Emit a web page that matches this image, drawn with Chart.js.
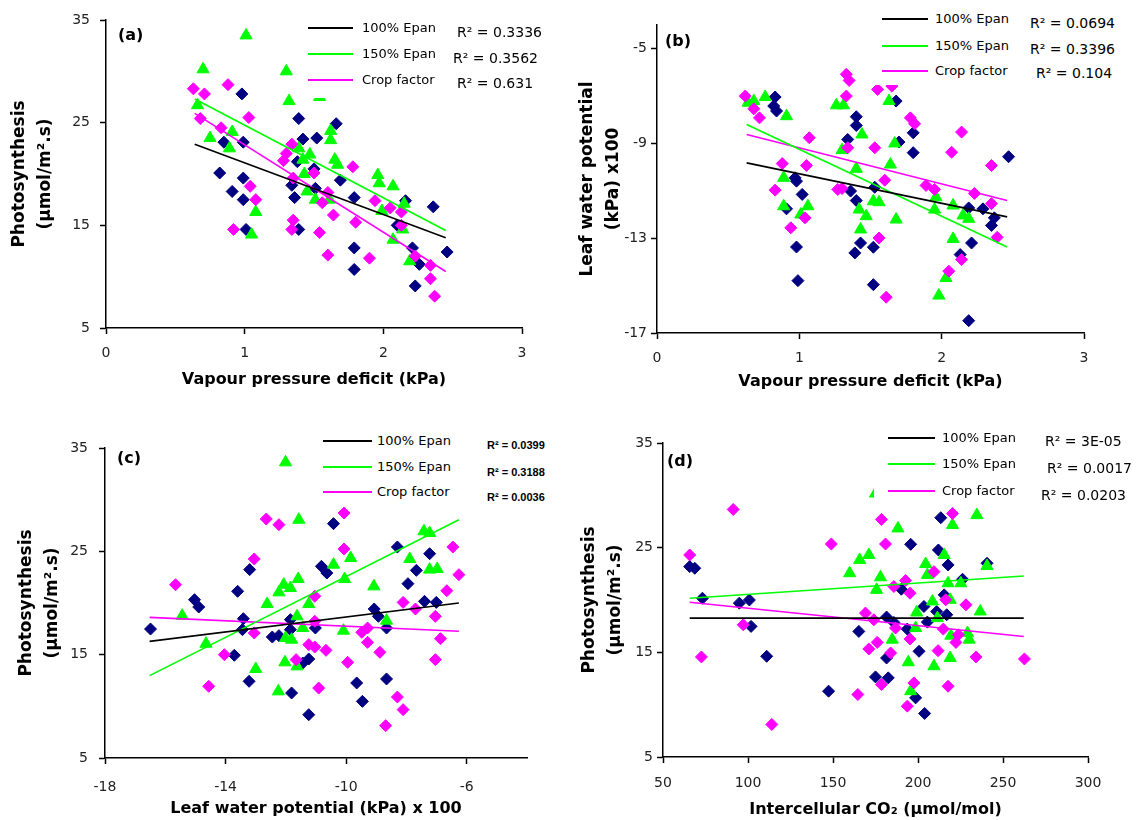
<!DOCTYPE html>
<html><head><meta charset="utf-8">
<script src="https://cdn.jsdelivr.net/npm/chart.js@4.4.1/dist/chart.umd.min.js"></script>
<style>
html,body{margin:0;padding:0;background:#fff;}
body{width:1137px;height:820px;position:relative;overflow:hidden;font-family:'DejaVu Sans',sans-serif;}
canvas{position:absolute;}
.box{position:absolute;background:#fff;}
.t{position:absolute;white-space:nowrap;color:#000;height:20px;line-height:20px;}
.ln{position:absolute;height:0;}
</style></head><body>
<script>
// ---------- DATA ----------
const seriesNames = ['100% Epan', '150% Epan', 'Crop factor'];

// (a) Photosynthesis vs Vapour pressure deficit
const a100 = [[0.98,27.8],[1.39,25.4],[1.66,24.9],[1.42,23.4],[1.52,23.5],[0.99,23.1],[0.85,23.1],[1.38,21.2],[1.50,20.5],[1.69,19.4],[0.82,20.1],[0.99,19.6],[1.34,18.9],[1.51,18.6],[0.91,18.3],[0.99,17.5],[1.36,17.7],[1.79,17.7],[2.16,17.4],[2.36,16.8],[2.10,15.0],[1.01,14.6],[1.39,14.6],[1.79,12.8],[2.21,12.8],[2.46,12.4],[2.26,11.2],[1.79,10.7],[2.23,9.1]];
const a150 = [[1.01,33.5],[0.70,30.2],[1.30,30.0],[1.32,27.1],[1.54,27.5],[0.66,26.7],[0.91,24.1],[0.75,23.5],[0.89,22.5],[1.62,24.2],[1.62,23.3],[1.39,22.5],[1.47,21.9],[1.42,21.4],[1.65,21.4],[1.67,20.9],[1.43,20.0],[1.96,19.9],[1.97,19.1],[2.07,18.8],[1.45,18.3],[1.51,17.5],[1.61,17.5],[1.08,16.3],[1.99,16.4],[2.15,17.1],[2.14,14.6],[2.07,13.6],[1.05,14.1],[2.19,11.5]];
const aCrop = [[0.63,28.3],[0.88,28.7],[0.71,27.8],[1.03,25.5],[0.68,25.4],[0.83,24.5],[1.34,22.9],[1.30,22.0],[1.28,21.3],[1.50,20.1],[1.78,20.7],[1.35,19.6],[1.04,18.8],[1.08,17.5],[1.60,18.2],[1.56,17.2],[1.94,17.4],[2.05,16.7],[2.13,16.3],[1.64,16.0],[1.35,15.5],[1.34,14.6],[0.92,14.6],[1.80,15.3],[2.13,15.0],[1.54,14.3],[1.60,12.1],[1.90,11.8],[2.23,12.0],[2.34,11.1],[2.34,9.8],[2.37,8.1]];
const a100Trend = [[0.64,22.9],[2.45,13.8]];
const a150Trend = [[0.64,27.3],[2.45,14.5]];
const aCropTrend = [[0.64,25.9],[2.45,10.5]];
const aR2 = ['R² = 0.3336', 'R² = 0.3562', 'R² = 0.631'];
const aTicksX = [0, 1, 2, 3];
const aTicksY = [5, 15, 25, 35];

// (b) Leaf water potential vs Vapour pressure deficit
const b100 = [[0.83,-7.04],[0.82,-7.42],[0.84,-7.63],[1.68,-7.21],[1.40,-7.87],[1.40,-8.24],[1.80,-8.55],[1.70,-8.94],[1.34,-8.83],[1.80,-9.39],[2.47,-9.56],[0.97,-10.45],[0.98,-10.59],[1.02,-11.15],[0.91,-11.76],[1.36,-11.01],[1.40,-11.41],[1.53,-10.85],[2.19,-11.72],[2.29,-11.76],[2.37,-12.14],[2.35,-12.46],[0.98,-13.37],[1.43,-13.2],[1.39,-13.62],[1.52,-13.38],[2.21,-13.2],[2.13,-13.69],[0.99,-14.79],[1.52,-14.96],[2.19,-16.48]];
const b150 = [[0.68,-7.21],[0.76,-7.04],[0.64,-7.28],[0.91,-7.85],[1.26,-7.39],[1.31,-7.39],[1.63,-7.21],[1.44,-8.62],[1.67,-9.0],[1.30,-9.28],[1.64,-9.89],[1.40,-10.07],[0.89,-10.45],[0.89,-11.65],[1.06,-11.65],[1.01,-12.0],[1.52,-11.44],[1.56,-11.48],[1.42,-11.79],[1.47,-12.07],[1.43,-12.63],[1.68,-12.21],[1.96,-11.27],[1.95,-11.79],[2.08,-11.62],[2.15,-12.04],[2.19,-12.18],[2.08,-13.03],[2.03,-14.68],[1.98,-15.42]];
const bCrop = [[0.62,-7.0],[0.68,-7.54],[0.72,-7.92],[1.33,-6.08],[1.35,-6.34],[1.33,-7.0],[1.55,-6.72],[1.65,-6.58],[1.78,-7.92],[1.81,-8.17],[1.07,-8.76],[1.34,-9.18],[1.53,-9.18],[2.14,-8.52],[2.07,-9.37],[0.88,-9.85],[1.05,-9.93],[2.35,-9.93],[1.60,-10.55],[0.83,-10.97],[1.27,-10.94],[1.30,-10.9],[1.89,-10.77],[1.95,-10.94],[2.23,-11.11],[2.35,-11.54],[1.04,-12.14],[0.94,-12.56],[1.56,-12.99],[2.39,-12.96],[2.05,-14.39],[2.14,-13.9],[1.61,-15.49]];
const b100Trend = [[0.63,-9.82],[2.46,-12.1]];
const b150Trend = [[0.63,-8.2],[2.46,-13.37]];
const bCropTrend = [[0.63,-8.62],[2.46,-11.41]];
const bR2 = ['R² = 0.0694', 'R² = 0.3396', 'R² = 0.104'];
const bTicksX = [0, 1, 2, 3];
const bTicksY = [-17, -13, -9, -5];

// (c) Photosynthesis vs Leaf water potential
const c100 = [[-16.49,17.48],[-15.03,20.32],[-14.89,19.61],[-13.60,21.13],[-13.20,23.23],[-13.41,18.48],[-13.44,17.42],[-13.71,14.94],[-13.22,12.42],[-12.45,16.71],[-12.23,16.84],[-11.85,18.39],[-11.85,17.42],[-10.82,23.55],[-10.64,22.9],[-10.42,27.68],[-11.02,17.58],[-11.44,14.19],[-11.24,14.58],[-11.81,11.29],[-11.24,9.19],[-9.07,19.42],[-8.93,18.71],[-8.66,17.58],[-9.65,12.26],[-9.46,10.48],[-8.66,12.65],[-8.30,25.42],[-7.23,24.77],[-7.67,23.16],[-7.95,21.87],[-7.40,20.16],[-7.01,20.06]];
const c150 = [[-12.01,33.61],[-11.57,28.06],[-15.44,18.77],[-14.65,16.06],[-13.0,13.61],[-12.25,11.45],[-12.62,19.9],[-12.23,21.03],[-12.07,21.77],[-11.85,21.45],[-11.59,22.32],[-11.24,19.9],[-11.63,18.71],[-11.44,17.58],[-12.01,16.61],[-11.81,16.45],[-12.03,14.26],[-11.63,13.87],[-10.42,23.71],[-9.85,24.35],[-10.05,22.32],[-10.09,17.32],[-9.08,21.61],[-8.66,18.29],[-7.89,24.26],[-7.42,26.94],[-7.23,26.77],[-7.23,23.23],[-6.98,23.29]];
const cCrop = [[-15.66,21.77],[-14.56,11.94],[-14.04,15.0],[-13.05,24.26],[-13.05,17.1],[-12.65,28.13],[-12.23,27.58],[-11.66,14.52],[-11.04,20.65],[-11.04,18.23],[-11.24,15.97],[-11.04,15.74],[-10.67,15.42],[-10.91,11.77],[-10.07,28.71],[-10.07,25.23],[-9.95,14.26],[-9.48,17.16],[-9.29,17.58],[-9.29,16.19],[-8.88,15.23],[-8.30,10.9],[-8.11,9.68],[-8.69,8.13],[-8.11,20.06],[-7.70,19.42],[-7.04,18.71],[-6.87,16.55],[-7.04,14.52],[-6.66,21.19],[-6.26,22.74],[-6.46,25.42]];
const c100Trend = [[-16.52,16.29],[-6.26,20.0]];
const c150Trend = [[-16.52,12.97],[-6.26,28.06]];
const cCropTrend = [[-16.52,18.61],[-6.26,17.26]];
const cR2 = ['R² = 0.0399', 'R² = 0.3188', 'R² = 0.0036'];
const cTicksX = [-18, -14, -10, -6];
const cTicksY = [5, 15, 25, 35];

// (d) Photosynthesis vs Intercellular CO2
const d100 = [[65.7,23.19],[68.7,23.03],[73.2,20.17],[94.9,19.7],[100.8,20.0],[101.8,17.48],[111.0,14.62],[147.4,11.29],[165.2,17.0],[181.5,18.37],[185.8,17.86],[181.5,14.46],[175.0,12.65],[182.5,12.56],[190.2,21.03],[195.7,25.32],[193.7,17.22],[200.6,15.1],[198.6,10.65],[203.9,9.16],[203.5,19.38],[205.5,17.89],[213.4,27.86],[212.0,24.78],[217.7,23.35],[226.2,21.98],[215.4,20.49],[211.0,18.9],[216.9,18.59],[240.6,23.51]];
const d150 = [[175.0,30.17],[188.2,26.84],[234.6,28.11],[220.3,27.16],[171.1,24.3],[165.7,23.83],[159.8,22.56],[177.9,22.17],[175.6,20.97],[204.5,23.44],[205.5,22.4],[215.4,24.3],[217.7,21.6],[225.2,21.6],[240.6,23.25],[208.5,19.86],[218.9,20.02],[199.2,18.81],[211.4,18.27],[236.6,18.9],[198.6,17.32],[219.3,16.59],[229.1,16.84],[230.1,16.21],[184.8,16.21],[194.3,14.05],[209.4,13.67],[218.9,14.46],[195.7,11.29]];
const dCrop = [[65.7,24.3],[91.3,28.65],[97.2,17.63],[72.6,14.56],[114.0,8.11],[149.0,25.35],[178.5,27.7],[180.9,25.35],[164.6,10.97],[169.1,18.75],[174.0,18.11],[171.1,15.32],[176.0,15.95],[183.9,14.94],[178.5,11.92],[185.8,21.29],[192.7,21.86],[195.3,20.65],[186.8,17.32],[195.3,16.27],[197.6,12.08],[193.7,9.86],[209.4,22.71],[216.3,20.02],[214.9,17.22],[211.8,15.16],[217.7,11.76],[220.3,28.27],[228.2,19.54],[222.3,15.95],[223.8,16.68],[234.1,14.56],[262.6,14.37]];
const d100Trend = [[65.7,18.27],[262.2,18.27]];
const d150Trend = [[65.7,20.17],[262.2,22.3]];
const dCropTrend = [[65.7,19.79],[262.2,16.52]];
const dR2 = ['R² = 3E-05', 'R² = 0.0017', 'R² = 0.0203'];
const dTicksX = [50, 100, 150, 200, 250, 300];
const dTicksY = [5, 15, 25, 35];

const photoTitle = ['Photosynthesis', '(µmol/m².s)'];
const lwpTitle = ['Leaf water potential', '(kPa) x100'];
const vpdTitle = 'Vapour pressure deficit (kPa)';
const lwpXTitle = 'Leaf water potential (kPa) x 100';
const ciTitle = 'Intercellular CO₂ (µmol/mol)';

// ---------- STYLE / LAYOUT ----------
const NAVY = '#000080', GREEN = '#00FF00', PINK = '#FF00FF';
const lineColors = ['#000000', GREEN, PINK];
Chart.defaults.font.family = "'DejaVu Sans', sans-serif";

const toPts = arr => arr.map(([x, y]) => ({x, y}));

function scatterSet(label, arr, color, style, r, order) {
  return {label, data: toPts(arr), pointStyle: style, pointRadius: r, pointHoverRadius: r,
    backgroundColor: color, borderColor: color, borderWidth: 1, showLine: false, order};
}
function trendSet(label, arr, color) {
  return {label: label + ' trend', data: toPts(arr), showLine: true, borderColor: color,
    borderWidth: 1.6, pointRadius: 0, fill: false, order: 0};
}

const PAD_TOP = 20, PAD_RIGHT = 30;

function makePanel(p) {
  // p.area = [left, top, right, bottom] of the plotting area on the page
  const [aL, aT, aR, aB] = p.area;
  const left = aL - p.leftW, top = aT - PAD_TOP;
  const w = p.leftW + (aR - aL) + PAD_RIGHT, h = PAD_TOP + (aB - aT) + p.bottomH;
  const cv = document.createElement('canvas');
  cv.width = w; cv.height = h;
  cv.style.left = left + 'px'; cv.style.top = top + 'px';
  cv.style.width = w + 'px'; cv.style.height = h + 'px';
  document.body.appendChild(cv);
  const datasets = [
    trendSet(seriesNames[0], p.trends[0], lineColors[0]),
    trendSet(seriesNames[1], p.trends[1], lineColors[1]),
    trendSet(seriesNames[2], p.trends[2], lineColors[2]),
    scatterSet(seriesNames[2], p.series[2], PINK, 'rectRot', 6, 1),
    scatterSet(seriesNames[1], p.series[1], GREEN, 'triangle', 7, 2),
    scatterSet(seriesNames[0], p.series[0], NAVY, 'rectRot', 6, 3)
  ];
  const axisCommon = {
    type: 'linear',
    border: {display: true, color: '#000', width: 1.5},
    grid: {display: true, drawOnChartArea: false, drawTicks: true, tickLength: 6, tickColor: '#000', tickWidth: 1.5}
  };
  new Chart(cv, {
    type: 'scatter',
    data: {datasets},
    options: {
      responsive: false, animation: false, devicePixelRatio: 1,
      layout: {padding: {top: PAD_TOP, right: PAD_RIGHT, left: 0, bottom: 0}},
      plugins: {legend: {display: false}, tooltip: {enabled: false}},
      scales: {
        x: Object.assign({}, axisCommon, {
          min: p.xr[0], max: p.xr[1],
          afterBuildTicks: s => { s.ticks = p.xt.map(v => ({value: v})); },
          afterFit: s => { s.height = p.bottomH; },
          ticks: {padding: p.xTickPad, color: '#222', font: {size: 14}, maxRotation: 0, autoSkip: false},
          title: {display: true, text: p.xTitle, color: '#000', font: {size: 16, weight: 'bold', lineHeight: 1.2},
            padding: {top: 0, bottom: p.xTitlePad}}
        }),
        y: Object.assign({}, axisCommon, {
          min: p.yr[0], max: p.yr[1],
          afterBuildTicks: s => { s.ticks = p.yt.map(v => ({value: v})); },
          afterFit: s => { s.width = p.leftW; },
          ticks: {padding: p.yTickPad, color: '#222', font: {size: 14}, autoSkip: false},
          title: {display: true, text: p.yTitle, color: '#000', font: {size: 17, weight: 'bold', lineHeight: 26 / 17},
            padding: {top: p.yTitlePad, bottom: 0}}
        })
      }
    }
  });
}

function addText(txt, x, cy, css) {
  const d = document.createElement('div');
  d.className = 't'; d.textContent = txt;
  d.style.left = x + 'px'; d.style.top = (cy - 10) + 'px';
  if (css) d.style.cssText += css;
  document.body.appendChild(d);
}
function addLegend(L) {
  const b = document.createElement('div');
  b.className = 'box';
  b.style.left = L.box[0] + 'px'; b.style.top = L.box[1] + 'px';
  b.style.width = L.box[2] + 'px'; b.style.height = L.box[3] + 'px';
  document.body.appendChild(b);
  for (let i = 0; i < 3; i++) {
    const ln = document.createElement('div');
    ln.className = 'ln';
    ln.style.left = L.lx[0] + 'px'; ln.style.width = (L.lx[1] - L.lx[0]) + 'px';
    ln.style.top = (L.ly[i] - 1) + 'px';
    ln.style.borderTop = '2px solid ' + lineColors[i];
    document.body.appendChild(ln);
    addText(seriesNames[i], L.tx, L.ly[i], 'font-size:13px;');
    addText(L.r2[i], L.rx[i], L.ry[i], L.r2css);
  }
  addText(L.tag, L.tagPos[0], L.tagPos[1], 'font-size:16px;font-weight:bold;');
}

const panels = [
  {area: [106, 20, 522, 328], leftW: 106, bottomH: 70,
   xr: [0, 3], yr: [5, 35], xt: aTicksX, yt: aTicksY, xTickPad: 11, yTickPad: 10,
   xTitle: vpdTitle, yTitle: photoTitle, xTitlePad: 8.4, yTitlePad: 7,
   series: [a100, a150, aCrop], trends: [a100Trend, a150Trend, aCropTrend]},
  {area: [657, 25, 1084, 333], leftW: 100, bottomH: 70,
   xr: [0, 3], yr: [-17, -4], xt: bTicksX, yt: bTicksY, xTickPad: 11, yTickPad: 4,
   xTitle: vpdTitle, yTitle: lwpTitle, xTitlePad: 11.4, yTitlePad: 18,
   series: [b100, b150, bCrop], trends: [b100Trend, b150Trend, bCropTrend]},
  {area: [105, 448, 527, 758], leftW: 105, bottomH: 62,
   xr: [-18, -4], yr: [5, 35], xt: cTicksX, yt: cTicksY, xTickPad: 15, yTickPad: 11,
   xTitle: lwpXTitle, yTitle: photoTitle, xTitlePad: 1.4, yTitlePad: 14,
   series: [c100, c150, cCrop], trends: [c100Trend, c150Trend, cCropTrend]},
  {area: [663, 443, 1088, 757], leftW: 100, bottomH: 63,
   xr: [50, 300], yr: [5, 35], xt: dTicksX, yt: dTicksY, xTickPad: 12, yTickPad: 4,
   xTitle: ciTitle, yTitle: photoTitle, xTitlePad: 0.4, yTitlePad: 14,
   series: [d100, d150, dCrop], trends: [d100Trend, d150Trend, dCropTrend]}
];
panels.forEach(makePanel);

const legends = [
  {box: [300, 12, 240, 86], lx: [308, 353], ly: [28, 54, 80], tx: 362, r2: aR2, rx: [457, 453, 457], ry: [32, 58, 83],
   r2css: 'font-size:14px;', tag: '(a)', tagPos: [118, 35]},
  {box: [870, 6, 267, 79], lx: [882, 928], ly: [19, 46, 71], tx: 935, r2: bR2, rx: [1030, 1030, 1036], ry: [23, 49, 73],
   r2css: 'font-size:14px;', tag: '(b)', tagPos: [665, 41]},
  {box: [315, 430, 245, 77], lx: [323, 372], ly: [441, 467, 492], tx: 377, r2: cR2, rx: [487, 487, 487], ry: [445, 472, 497],
   r2css: "font-size:11px;font-weight:bold;font-family:'Liberation Sans',sans-serif;", tag: '(c)', tagPos: [117, 458]},
  {box: [874, 428, 263, 75], lx: [888, 935], ly: [438, 464, 491], tx: 942, r2: dR2, rx: [1045, 1047, 1041], ry: [441, 468, 495],
   r2css: 'font-size:14px;', tag: '(d)', tagPos: [667, 461]}
];
legends.forEach(addLegend);
</script>
</body></html>
